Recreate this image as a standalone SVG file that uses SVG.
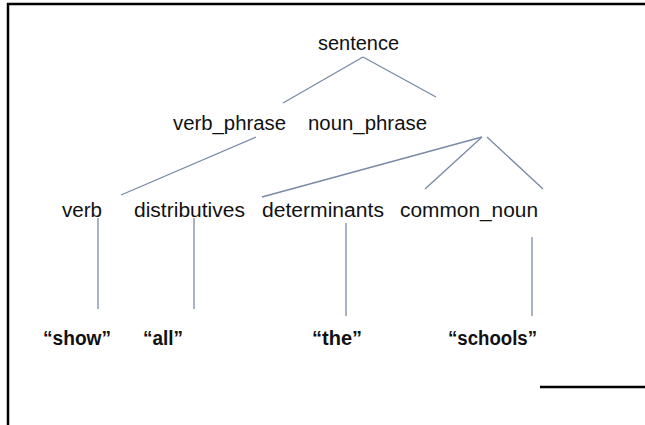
<svg xmlns="http://www.w3.org/2000/svg" width="645" height="425" viewBox="0 0 645 425">
<style>
.t{font-family:"Liberation Sans",Arial,sans-serif;font-size:20px;fill:#111}
.b{font-weight:bold}
.c{stroke:#7889a6;stroke-width:1.3;fill:none}
.f{stroke:#000;stroke-width:2.5;fill:none}
</style>
<rect width="645" height="425" fill="#fff"/>
<g id="frame">
<line class="f" x1="7" y1="4" x2="645" y2="4"/>
<line class="f" x1="8" y1="3" x2="8" y2="425"/>
<line class="f" x1="540" y1="387" x2="645" y2="387"/>
</g>
<g id="connectors">
<line class="c" x1="363" y1="57" x2="283" y2="103"/>
<line class="c" x1="363" y1="57" x2="436" y2="97"/>
<line class="c" x1="256" y1="137" x2="121" y2="195"/>
<line class="c" x1="482" y1="137" x2="262" y2="197"/>
<line class="c" x1="482" y1="137" x2="425" y2="189"/>
<line class="c" x1="487" y1="137" x2="543" y2="189"/>
<line class="c" x1="98" y1="218" x2="98" y2="309"/>
<line class="c" x1="194" y1="218" x2="194" y2="309"/>
<line class="c" x1="346" y1="223" x2="346" y2="316"/>
<line class="c" x1="532" y1="237" x2="532" y2="316"/>
</g>
<g id="sentence"><text class="t" x="318" y="50" textLength="81" lengthAdjust="spacingAndGlyphs">sentence</text></g>
<g id="verb_phrase"><text class="t" x="173" y="130" textLength="113" lengthAdjust="spacingAndGlyphs">verb_phrase</text></g>
<g id="noun_phrase"><text class="t" x="308" y="130" textLength="119" lengthAdjust="spacingAndGlyphs">noun_phrase</text></g>
<g id="verb"><text class="t" x="62" y="217" textLength="40" lengthAdjust="spacingAndGlyphs">verb</text></g>
<g id="distributives"><text class="t" x="134" y="217" textLength="111" lengthAdjust="spacingAndGlyphs">distributives</text></g>
<g id="determinants"><text class="t" x="262" y="217" textLength="122" lengthAdjust="spacingAndGlyphs">determinants</text></g>
<g id="common_noun"><text class="t" x="400" y="217" textLength="138" lengthAdjust="spacingAndGlyphs">common_noun</text></g>
<g id="show"><text class="t b" x="43" y="345" textLength="68" lengthAdjust="spacingAndGlyphs">“show”</text></g>
<g id="all"><text class="t b" x="143" y="345" textLength="40" lengthAdjust="spacingAndGlyphs">“all”</text></g>
<g id="the"><text class="t b" x="312" y="345" textLength="50" lengthAdjust="spacingAndGlyphs">“the”</text></g>
<g id="schools"><text class="t b" x="448" y="345" textLength="89" lengthAdjust="spacingAndGlyphs">“schools”</text></g>
</svg>
